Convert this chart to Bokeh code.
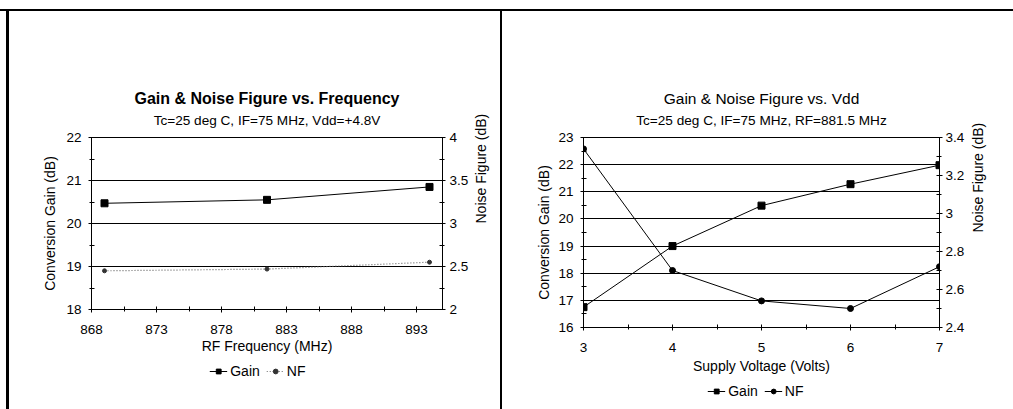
import math
from bokeh.plotting import figure
from bokeh.models import (Range1d, LinearAxis, FixedTicker, CustomJSTickFormatter,
                          Legend, LegendItem, Title)
from bokeh.embed import file_html
from bokeh.resources import INLINE

# ---- data: chart 1 (vs. frequency)
freq = [869, 881.5, 894]
gain_f = [20.47, 20.55, 20.85]
nf_f = [2.45, 2.47, 2.55]
freq_ticks = [868, 873, 878, 883, 888, 893]
freq_minor = [870.5, 875.5, 880.5, 885.5, 890.5]
gain_f_ticks = [18, 19, 20, 21, 22]
nf_f_ticks = [2, 2.5, 3, 3.5, 4]

# ---- data: chart 2 (vs. Vdd)
vdd = [3, 4, 5, 6, 7]
gain_v = [16.75, 19.0, 20.49, 21.28, 21.98]
nf_v = [3.34, 2.70, 2.54, 2.50, 2.72]
vdd_ticks = [3, 4, 5, 6, 7]
vdd_minor = [3.5, 4.5, 5.5, 6.5]
gain_v_ticks = [16, 17, 18, 19, 20, 21, 22, 23]
nf_v_ticks = [2.4, 2.6, 2.8, 3.0, 3.2, 3.4]

FONT = "Liberation Sans"
TICK = "13.5px"
LAB = "14px"
fmt = CustomJSTickFormatter(code="return String(Math.round(tick*100)/100)")


def style_axis(ax):
    ax.axis_line_color = "black"
    ax.major_tick_line_color = "black"
    ax.minor_tick_line_color = "black"
    ax.major_tick_in = 3
    ax.major_tick_out = 3
    ax.minor_tick_in = 3
    ax.minor_tick_out = 2
    ax.major_label_text_font = FONT
    ax.major_label_text_font_size = TICK
    ax.major_label_text_color = "black"
    ax.axis_label_text_font = FONT
    ax.axis_label_text_font_size = LAB
    ax.axis_label_text_font_style = "normal"
    ax.axis_label_text_color = "black"


def make_chart(width, xr, yr, nfr, xt, xm, yt, ym, nt, nm, borders,
               title, title_style, title_size, subtitle, xlabel, css, stand):
    p = figure(width=width, height=409, x_range=Range1d(*xr), y_range=Range1d(*yr),
               output_backend="svg", toolbar_location=None, title=title,
               min_border_left=borders[0], min_border_right=borders[1],
               min_border_top=borders[2], min_border_bottom=borders[3])
    p.title.align = "center"
    p.title.text_font = FONT
    p.title.text_font_size = title_size
    p.title.text_font_style = title_style
    p.title.text_color = "black"
    p.title.standoff = -11
    p.border_fill_alpha = 0
    p.background_fill_color = "white"
    p.outline_line_color = "black"
    p.styles = css
    p.extra_y_ranges = {"nf": Range1d(*nfr)}
    p.xaxis.ticker = FixedTicker(ticks=xt, minor_ticks=xm)
    p.yaxis.ticker = FixedTicker(ticks=yt, minor_ticks=ym)
    p.xaxis.axis_label = xlabel
    p.yaxis.axis_label = "Conversion Gain (dB)"
    p.xaxis.formatter = fmt
    p.yaxis.formatter = fmt
    raxis = LinearAxis(y_range_name="nf", axis_label="Noise Figure (dB)",
                       ticker=FixedTicker(ticks=nt, minor_ticks=nm), formatter=fmt)
    p.add_layout(raxis, "right")
    for ax in [p.xaxis[0], p.yaxis[0], raxis]:
        style_axis(ax)
    if "axis_label_orientation" in raxis.properties():
        raxis.axis_label_orientation = math.pi / 2
    p.xaxis.major_label_standoff = stand[0]
    p.xaxis.axis_label_standoff = stand[1]
    p.yaxis.major_label_standoff = stand[2]
    p.yaxis.axis_label_standoff = stand[3]
    raxis.major_label_standoff = stand[4]
    raxis.axis_label_standoff = stand[5]
    p.xgrid.visible = False
    p.ygrid.grid_line_color = "black"
    p.ygrid.grid_line_alpha = 1
    p.add_layout(Title(text=subtitle, align="center", text_font=FONT,
                       text_font_size="13.6px", text_font_style="normal",
                       text_color="black", standoff=19), "above")
    return p, raxis


def legend_fig(left, top):
    # small transparent figure that only carries a legend (placed under each chart)
    lf = figure(width=130, height=26, x_range=Range1d(0, 1), y_range=Range1d(0, 1),
                output_backend="svg", toolbar_location=None, title=None,
                x_axis_location=None, y_axis_location=None, min_border=0)
    lf.outline_line_color = None
    lf.border_fill_alpha = 0
    lf.background_fill_alpha = 0
    lf.xgrid.visible = False
    lf.ygrid.visible = False
    lf.styles = {"position": "absolute", "left": f"{left}px", "top": f"{top}px"}
    return lf


def add_legend(lf, items):
    lf.add_layout(Legend(items=items, orientation="horizontal", location="center",
                         label_text_font=FONT, label_text_font_size=LAB,
                         label_text_color="black", border_line_color=None,
                         background_fill_alpha=0, glyph_width=18, glyph_height=12,
                         label_height=12, label_standoff=3, spacing=6,
                         padding=0, margin=0))


# ---------- chart 1
css1 = {"position": "absolute", "left": "0px", "top": "0px",
        "background-image": "linear-gradient(#000,#000), linear-gradient(#000,#000)",
        "background-size": "100% 2px, 3px calc(100% - 9px)",
        "background-position": "0 9px, 6px 9px",
        "background-repeat": "no-repeat"}
p1, r1 = make_chart(500, (868, 895), (18, 22), (2, 4),
                    freq_ticks, freq_minor, gain_f_ticks, [18.5, 19.5, 20.5, 21.5],
                    nf_f_ticks, [2.25, 2.75, 3.25, 3.75],
                    (91, 55, 137, 100),
                    "Gain & Noise Figure vs. Frequency", "bold", "16px",
                    "Tc=25 deg C, IF=75 MHz, Vdd=+4.8V", "RF Frequency (MHz)", css1,
                    (12, 1, 7, 5, 4, 10))
p1.line(freq, gain_f, line_color="black", line_width=1)
p1.scatter(freq, gain_f, marker="square", size=7, color="black")
p1.line(freq, nf_f, y_range_name="nf", line_color="#666666", line_width=1.2,
        line_dash="1 2")
p1.scatter(freq, nf_f, y_range_name="nf", marker="circle", size=4, color="#333333")

lf1 = legend_fig(193, 358)
a1 = lf1.line(freq, gain_f, line_color="black", line_width=1)
b1 = lf1.scatter(freq, gain_f, marker="square", size=7, color="black")
c1 = lf1.line(freq, nf_f, line_color="#666666", line_width=1.2, line_dash="1 2")
d1 = lf1.scatter(freq, nf_f, marker="circle", size=4, color="#333333")
add_legend(lf1, [LegendItem(label="Gain", renderers=[a1, b1]),
                 LegendItem(label="NF", renderers=[c1, d1])])

# ---------- chart 2
css2 = {"position": "absolute", "left": "500px", "top": "0px",
        "background-image": "linear-gradient(#000,#000), linear-gradient(#000,#000)",
        "background-size": "100% 2px, 2px calc(100% - 9px)",
        "background-position": "0 9px, 0 9px",
        "background-repeat": "no-repeat"}
p2, r2 = make_chart(513, (3, 7), (16, 23), (2.4, 3.4),
                    vdd_ticks, vdd_minor, gain_v_ticks,
                    [16.5, 17.5, 18.5, 19.5, 20.5, 21.5, 22.5],
                    nf_v_ticks, [2.5, 2.7, 2.9, 3.1, 3.3],
                    (83, 74, 137, 82),
                    "Gain & Noise Figure vs. Vdd", "normal", "15.5px",
                    "Tc=25 deg C, IF=75 MHz, RF=881.5 MHz", "Supply Voltage (Volts)", css2,
                    (12, 3, 7, 3, 3, 11))
p2.line(vdd, gain_v, line_color="black", line_width=1)
p2.scatter(vdd, gain_v, marker="square", size=7, color="black")
p2.line(vdd, nf_v, y_range_name="nf", line_color="black", line_width=1)
p2.scatter(vdd, nf_v, y_range_name="nf", marker="circle", size=6, color="black")

lf2 = legend_fig(691, 378)
a2 = lf2.line(vdd, gain_v, line_color="black", line_width=1)
b2 = lf2.scatter(vdd, gain_v, marker="square", size=7, color="black")
c2 = lf2.line(vdd, nf_v, line_color="black", line_width=1)
d2 = lf2.scatter(vdd, nf_v, marker="circle", size=6, color="black")
add_legend(lf2, [LegendItem(label="Gain", renderers=[a2, b2]),
                 LegendItem(label="NF", renderers=[c2, d2])])

open("out.html", "w").write(file_html([p1, p2, lf1, lf2], INLINE))
